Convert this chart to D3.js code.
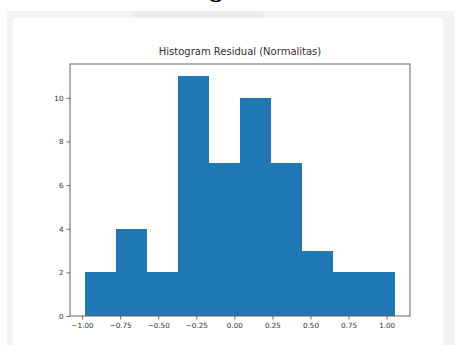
<!DOCTYPE html>
<html>
<head>
<meta charset="utf-8">
<script src="https://cdn.jsdelivr.net/npm/d3@7"></script>
<style>
  html, body { margin: 0; padding: 0; background: #fff; }
  svg { display: block; }
</style>
</head>
<body>
<svg id="chart" width="456" height="345"></svg>
<script>
// ---- data ----
const title = "Histogram Residual (Normalitas)";
const binEdges = [-0.978, -0.775, -0.572, -0.369, -0.166, 0.037, 0.240, 0.443, 0.646, 0.849, 1.052];
const counts = [2, 4, 2, 11, 7, 10, 7, 3, 2, 2];
const xTicks = [-1.00, -0.75, -0.50, -0.25, 0.00, 0.25, 0.50, 0.75, 1.00];
const yTicks = [0, 2, 4, 6, 8, 10];

const svg = d3.select("#chart");

// page / card frame
svg.append("rect").attr("x", 7).attr("y", 11).attr("width", 447).attr("height", 340).attr("fill", "#f3f3f3");
svg.append("rect").attr("x", 13).attr("y", 18).attr("width", 430).attr("height", 330).attr("fill", "#fff");
svg.append("rect").attr("x", 133).attr("y", 11).attr("width", 130).attr("height", 7).attr("fill", "#ededed");

// cut-off heading glyph at top
svg.append("text").attr("x", 216).attr("y", -3).attr("text-anchor", "middle")
  .attr("font-family", "Liberation Serif").attr("font-weight", "bold").attr("font-size", 26)
  .attr("fill", "#000").text("g");

const L = 70, R = 410, T = 64, B = 316;
const xmin = binEdges[0], xmax = binEdges[binEdges.length - 1];
const pad = (xmax - xmin) * 0.05;
const x = d3.scaleLinear().domain([xmin - pad, xmax + pad]).range([L, R]);
const y = d3.scaleLinear().domain([0, d3.max(counts) * 1.05]).range([B, T]);

// bars
svg.append("g").selectAll("rect").data(counts).join("rect")
  .attr("x", (d, i) => x(binEdges[i]))
  .attr("width", (d, i) => x(binEdges[i + 1]) - x(binEdges[i]))
  .attr("y", d => y(d))
  .attr("height", d => y(0) - y(d))
  .attr("fill", "#1f77b4")
  .attr("shape-rendering", "crispEdges");

const font = "DejaVu Sans";
// axes
const xAxis = d3.axisBottom(x).tickValues(xTicks).tickFormat(d3.format(".2f")).tickSize(3.5).tickPadding(3);
const gx = svg.append("g").attr("transform", `translate(0,${B})`).call(xAxis);
const yAxis = d3.axisLeft(y).tickValues(yTicks).tickFormat(d3.format("d")).tickSize(3.5).tickPadding(3);
const gy = svg.append("g").attr("transform", `translate(${L},0)`).call(yAxis);
[gx, gy].forEach(g => {
  g.select(".domain").remove();
  g.selectAll(".tick line").attr("stroke", "#444").attr("stroke-width", 0.8);
  g.selectAll(".tick text").attr("font-family", font).attr("font-size", 7.2).attr("fill", "#333");
});

// spines
svg.append("rect").attr("x", L).attr("y", T).attr("width", R - L).attr("height", B - T)
  .attr("fill", "none").attr("stroke", "#555").attr("stroke-width", 0.9);

// title
svg.append("text").attr("x", (L + R) / 2).attr("y", 55).attr("text-anchor", "middle")
  .attr("font-family", font).attr("font-size", 10).attr("fill", "#333").text(title);
</script>
</body>
</html>
